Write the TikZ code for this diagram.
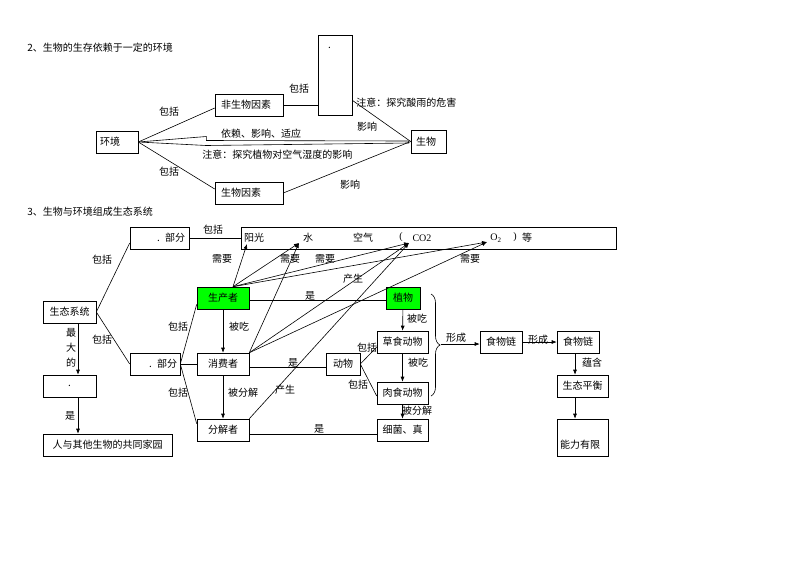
\documentclass[tikz,border=0pt]{standalone}
\usepackage{fontspec}
\setmainfont{Noto Sans CJK SC}
\newfontfamily\lat{Liberation Serif}
\usetikzlibrary{arrows.meta,calc,decorations.pathreplacing}
\definecolor{grn}{RGB}{0,255,0}
\begin{document}
\begin{tikzpicture}[x=1pt,y=-1pt,
  font=\fontsize{10}{12}\selectfont,
  line width=0.6pt,
  bx/.style 2 args={draw, inner sep=0pt, minimum width=#1, minimum height=#2},
  gbx/.style 2 args={bx={#1}{#2}, fill=grn},
  lab/.style={inner sep=0pt},
  arr/.style={-{Latex[length=5pt,width=4pt]}}]
\useasboundingbox (0,0) rectangle (800,566);
\fill[white] (0,0) rectangle (800,566);

% ---------- section 2 ----------
\node[lab, anchor=west] (t2) at (27,48) {2、生物的生存依赖于一定的环境};
\node[bx={42}{22}, text width=34pt, align=left] (hj) at (117,142) {环境};
\node[bx={68}{22}, text width=56pt, align=left] (fsw) at (249,105) {非生物因素};
\node[bx={34}{80}, text width=14pt, align=left] (tall) at (335,75) {\raisebox{27pt}[\height][\depth]{.}};
\node[bx={35}{23}, text width=25pt, align=left] (sw) at (428.5,141.5) {生物};
\node[bx={68}{22}, text width=56pt, align=left] (swys) at (249,193) {生物因素};

\draw (hj.east) -- ($(fsw.west)+(0,3)$);
\draw (hj.east) -- ($(swys.west)+(0,-4)$);
\draw (fsw.east) -- (fsw.east -| tall.west);
\draw ($(tall.south east)+(0,-15)$) -- (sw.west);
\draw (swys.east) -- (sw.west);
\draw (hj.east) -- ($(hj.east)+(68,-5.5)$) -- ($(hj.east)+(68,-1.5)$) -- ($(sw.west)+(-2,-0.5)$)
      -- ($(sw.west)+(-2,1.5)$) -- ($(hj.east)+(68,3.5)$) -- cycle;

\node[lab] (l1) at (169,112) {包括};
\node[lab] (l2) at (169,172) {包括};
\node[lab] (l3) at (299,89) {包括};
\node[lab] (l4) at (261,134) {依赖、影响、适应};
\node[lab, anchor=west] (l5) at (202,155) {注意：探究植物对空气湿度的影响};
\node[lab, anchor=west] (l6) at (356,103) {注意：探究酸雨的危害};
\node[lab] (l7) at (367,127) {影响};
\node[lab] (l8) at (350,185) {影响};

% ---------- section 3 ----------
\node[lab, anchor=west] (t3) at (27,212) {3、生物与环境组成生态系统};
\node[bx={59}{22}, text width=51pt, align=right] (bf1) at (159.5,238) {. 部分};
\node[bx={375}{22}] (big) at (428.5,238) {};
\node[lab] (yg) at (254,238) {阳光};
\node[lab] (shui) at (308,238) {水};
\node[lab] (kq) at (363,238) {空气};
\node[lab] (lp) at (401,237) {\lat (};
\node[lab] (co2) at (422,238) {\lat CO2};
\node[lab] (o2) at (496,238) {\lat O\textsubscript{2}};
\node[lab] (rp) at (515,237) {\lat )};
\node[lab] (deng) at (527,238) {等};
\coordinate (tipYG) at (247,244);
\coordinate (tipS) at (299,243);
\coordinate (tipC) at (409,243);
\coordinate (tipO) at (487,242);

\node[bx={53}{22}] (sts) at (69.5,312) {生态系统};
\node[bx={50}{22}, text width=44pt, align=right] (bf2) at (155,364) {. 部分};
\node[bx={53}{22}] (dotb) at (69.5,386) {.};
\node[bx={129}{22}] (home) at (107.5,445) {人与其他生物的共同家园};

\node[gbx={52}{22}] (scz) at (223,298) {生产者};
\node[bx={52}{22}] (xfz) at (223,364) {消费者};
\node[bx={52}{22}] (fjz) at (223,430) {分解者};
\node[gbx={34}{22}] (zw) at (403,298) {植物};
\node[bx={51}{22}] (cs) at (402.5,342) {草食动物};
\node[bx={51}{22}] (rs) at (402.5,393) {肉食动物};
\node[bx={51}{22}] (xj) at (402.5,430) {细菌、真};
\node[bx={34}{22}] (dw) at (343,364) {动物};
\node[bx={42}{22}] (sl1) at (501,342) {食物链};
\node[bx={42}{22}] (sl2) at (578,342) {食物链};
\node[bx={51}{22}] (stph) at (582.5,386) {生态平衡};
\node[bx={51}{37}, text width=45pt, align=left] (nl) at (582.5,437.5) {\raisebox{-7.5pt}[\height][\depth]{能力有限}};

\coordinate (xa) at (78,0);
\coordinate (xb) at (575,0);

\draw (sts.east) -- ($(bf1.west)+(0,5)$);
\draw (sts.east) -- (bf2.west);
\draw (bf1.east) -- (big.west |- bf1.east);
\draw[arr] (sts.south -| xa) -- (dotb.north -| xa);
\draw[arr] (dotb.south -| xa) -- (home.north -| xa);

\draw (bf2.east) -- ($(scz.south west)+(0,-5)$);
\draw (bf2.east) -- (xfz.west);
\draw (bf2.east) -- ($(fjz.north west)+(0,5)$);
\draw[arr] (scz) -- (xfz);
\draw[arr] (xfz) -- (fjz);

\draw ($(scz.east)+(0,2)$) -- ($(zw.west)+(0,2)$);
\draw ($(xfz.east)+(0,3)$) -- ($(dw.west)+(0,3)$);
\draw ($(fjz.east)+(0,4)$) -- ($(xj.west)+(0,4)$);
\draw (dw.east) -- ($(cs.west)+(0,5)$);
\draw (dw.east) -- ($(rs.west)+(0,3)$);
\draw[arr] (zw) -- (cs);
\draw[arr] (cs) -- (rs);
\draw[arr] (rs) -- (xj);

\coordinate (sctop) at ($(scz.north)+(10,0)$);
\draw[arr] (sctop) -- (tipYG);
\draw[arr] (sctop) -- (tipS);
\draw[arr] (sctop) -- (tipC);
\draw[arr] (sctop) -- (tipO);
\draw[arr] (xfz.north east) -- (tipS);
\draw[arr] (xfz.north east) -- (tipC);
\draw[arr] (xfz.north east) -- (tipO);
\draw[arr] (fjz.north east) -- (tipC);

\draw[decorate, decoration={brace, amplitude=9pt}] (431,294) -- (431,396);
\coordinate (btip) at (441,344);
\draw[arr] (btip) -- (sl1.west |- btip);
\draw[arr] (sl1.east) -- (sl2.west);
\draw[arr] (sl2.south -| xb) -- (stph.north -| xb);
\draw[arr] (stph.south -| xb) -- (nl.north -| xb);

\node[lab] (m1) at (213,230) {包括};
\node[lab] (m2) at (102,260) {包括};
\node[lab] (m3) at (102,340) {包括};
\node[lab, align=center, font=\fontsize{10}{15}\selectfont] (zdd) at (71,348) {最\\大\\的};
\node[lab] (m4) at (70,416) {是};
\node[lab] (m5) at (178,327) {包括};
\node[lab] (m6) at (178,393) {包括};
\node[lab] (m7) at (239,327) {被吃};
\node[lab] (m8) at (243,393) {被分解};
\node[lab] (m9) at (222,259) {需要};
\node[lab] (m10) at (290,259) {需要};
\node[lab] (m11) at (325,259) {需要};
\node[lab] (m12) at (470,259) {需要};
\node[lab] (m13) at (353,279) {产生};
\node[lab] (m14) at (285,390) {产生};
\node[lab] (m15) at (310,296) {是};
\node[lab] (m16) at (293,363) {是};
\node[lab] (m17) at (319,429) {是};
\node[lab] (m18) at (417,319) {被吃};
\node[lab] (m19) at (418,363) {被吃};
\node[lab] (m20) at (417,411) {被分解};
\node[lab] (m21) at (367,348) {包括};
\node[lab] (m22) at (358,385) {包括};
\node[lab] (m23) at (456,338) {形成};
\node[lab] (m24) at (538,340) {形成};
\node[lab] (m25) at (592,363) {蕴含};
\end{tikzpicture}
\end{document}
